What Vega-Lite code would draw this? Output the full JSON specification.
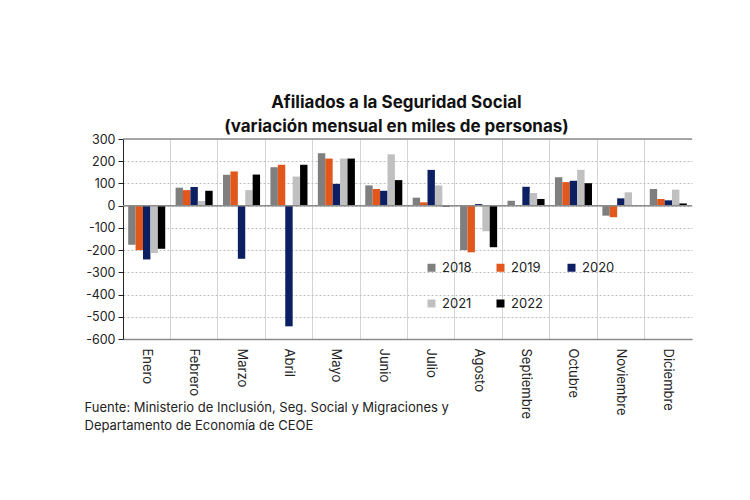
{
  "$schema": "https://vega.github.io/schema/vega-lite/v6.json",
  "width": 569,
  "height": 200,
  "autosize": {"type": "none"},
  "padding": {"left": 123, "top": 139, "right": 58, "bottom": 161},
  "background": "white",
  "config": {"font": "Inter", "view": {"stroke": null}},
  "title": {
    "text": ["Afiliados a la Seguridad Social", "(variación mensual en miles de personas)"],
    "fontSize": 17,
    "fontWeight": "bold",
    "color": "#111111",
    "lineHeight": 24,
    "anchor": "middle",
    "offset": -3,
    "dx": -11
  },
  "datasets": {
    "bars": [
      {"month": "Enero", "year": "2018", "value": -176},
      {"month": "Enero", "year": "2019", "value": -200},
      {"month": "Enero", "year": "2020", "value": -242},
      {"month": "Enero", "year": "2021", "value": -213},
      {"month": "Enero", "year": "2022", "value": -194},
      {"month": "Febrero", "year": "2018", "value": 81},
      {"month": "Febrero", "year": "2019", "value": 70},
      {"month": "Febrero", "year": "2020", "value": 84},
      {"month": "Febrero", "year": "2021", "value": 21},
      {"month": "Febrero", "year": "2022", "value": 67},
      {"month": "Marzo", "year": "2018", "value": 139},
      {"month": "Marzo", "year": "2019", "value": 154},
      {"month": "Marzo", "year": "2020", "value": -239},
      {"month": "Marzo", "year": "2021", "value": 70},
      {"month": "Marzo", "year": "2022", "value": 140},
      {"month": "Abril", "year": "2018", "value": 173},
      {"month": "Abril", "year": "2019", "value": 184},
      {"month": "Abril", "year": "2020", "value": -543},
      {"month": "Abril", "year": "2021", "value": 131},
      {"month": "Abril", "year": "2022", "value": 184},
      {"month": "Mayo", "year": "2018", "value": 236},
      {"month": "Mayo", "year": "2019", "value": 212},
      {"month": "Mayo", "year": "2020", "value": 98},
      {"month": "Mayo", "year": "2021", "value": 212},
      {"month": "Mayo", "year": "2022", "value": 212},
      {"month": "Junio", "year": "2018", "value": 91},
      {"month": "Junio", "year": "2019", "value": 75},
      {"month": "Junio", "year": "2020", "value": 67},
      {"month": "Junio", "year": "2021", "value": 231},
      {"month": "Junio", "year": "2022", "value": 115},
      {"month": "Julio", "year": "2018", "value": 36},
      {"month": "Julio", "year": "2019", "value": 15},
      {"month": "Julio", "year": "2020", "value": 161},
      {"month": "Julio", "year": "2021", "value": 91},
      {"month": "Julio", "year": "2022", "value": -4},
      {"month": "Agosto", "year": "2018", "value": -200},
      {"month": "Agosto", "year": "2019", "value": -210},
      {"month": "Agosto", "year": "2020", "value": 7},
      {"month": "Agosto", "year": "2021", "value": -115},
      {"month": "Agosto", "year": "2022", "value": -187},
      {"month": "Septiembre", "year": "2018", "value": 22},
      {"month": "Septiembre", "year": "2019", "value": 2},
      {"month": "Septiembre", "year": "2020", "value": 85},
      {"month": "Septiembre", "year": "2021", "value": 57},
      {"month": "Septiembre", "year": "2022", "value": 30},
      {"month": "Octubre", "year": "2018", "value": 128},
      {"month": "Octubre", "year": "2019", "value": 106},
      {"month": "Octubre", "year": "2020", "value": 112},
      {"month": "Octubre", "year": "2021", "value": 161},
      {"month": "Octubre", "year": "2022", "value": 101},
      {"month": "Noviembre", "year": "2018", "value": -45},
      {"month": "Noviembre", "year": "2019", "value": -52},
      {"month": "Noviembre", "year": "2020", "value": 33},
      {"month": "Noviembre", "year": "2021", "value": 60},
      {"month": "Diciembre", "year": "2018", "value": 75},
      {"month": "Diciembre", "year": "2019", "value": 30},
      {"month": "Diciembre", "year": "2020", "value": 24},
      {"month": "Diciembre", "year": "2021", "value": 72},
      {"month": "Diciembre", "year": "2022", "value": 10}
    ],
    "rules": [
      {"level": 0},
      {"level": 300}
    ]
  },
  "layer": [
    {
      "data": {"name": "bars"},
      "mark": {"type": "bar"},
      "encoding": {
        "x": {
          "field": "month",
          "type": "nominal",
          "sort": ["Enero", "Febrero", "Marzo", "Abril", "Mayo", "Junio", "Julio", "Agosto", "Septiembre", "Octubre", "Noviembre", "Diciembre"],
          "scale": {"paddingInner": 0, "paddingOuter": 0},
          "axis": {
            "title": ["Fuente: Ministerio de Inclusión, Seg. Social y Migraciones y", "Departamento de Economía de CEOE"],
            "titleX": -39,
            "titleY": 62,
            "titleAlign": "left",
            "titleAnchor": "start",
            "titleBaseline": "top",
            "titleFontSize": 13,
            "titleFontWeight": "normal",
            "titleColor": "#222222",
            "titleLineHeight": 18,
            "bandPosition": 0,
            "labelAngle": 90,
            "labelAlign": "left",
            "labelBaseline": "middle",
            "labelFontSize": 13,
            "labelPadding": 9,
            "labelColor": "#222222",
            "ticks": false,
            "domainColor": "#8c8c8c",
            "domainWidth": 1.5,
            "grid": true,
            "gridColor": "#d4d4d4"
          }
        },
        "xOffset": {
          "field": "year",
          "type": "nominal",
          "scale": {"paddingInner": 0, "paddingOuter": 0.7}
        },
        "y": {
          "field": "value",
          "type": "quantitative",
          "scale": {"domain": [-600, 300], "nice": false},
          "axis": {
            "title": null,
            "values": [-600, -500, -400, -300, -200, -100, 0, 100, 200, 300],
            "labelExpr": "replace(datum.label, '−', '-')",
            "labelOverlap": false,
            "labelFontSize": 12.5,
            "labelColor": "#222222",
            "labelPadding": 3,
            "domainColor": "#222222",
            "tickColor": "#222222",
            "tickSize": 5,
            "gridColor": "#bdbdbd",
            "gridDash": [2, 2]
          }
        },
        "color": {
          "field": "year",
          "type": "nominal",
          "scale": {
            "domain": ["2018", "2019", "2020", "2021", "2022"],
            "range": ["#7f7f7f", "#e2571c", "#0d1f63", "#c0c0c0", "#000000"]
          },
          "legend": {
            "title": null,
            "orient": "none",
            "legendX": 302,
            "legendY": 122,
            "direction": "horizontal",
            "columns": 3,
            "padding": 0,
            "symbolType": "square",
            "symbolSize": 64,
            "symbolStrokeWidth": 0,
            "labelFontSize": 13,
            "labelColor": "#222222",
            "columnPadding": 22,
            "rowPadding": 22
          }
        }
      }
    },
    {
      "data": {"name": "rules"},
      "mark": {"type": "rule", "color": "#8c8c8c", "strokeWidth": 1.5},
      "encoding": {
        "y": {
          "field": "level",
          "type": "quantitative",
          "axis": {
            "title": null,
            "values": [-600, -500, -400, -300, -200, -100, 0, 100, 200, 300],
            "labelExpr": "replace(datum.label, '−', '-')",
            "labelOverlap": false,
            "labelFontSize": 12.5,
            "labelColor": "#222222",
            "labelPadding": 3,
            "domainColor": "#222222",
            "tickColor": "#222222",
            "tickSize": 5,
            "gridColor": "#bdbdbd",
            "gridDash": [2, 2]
          }
        }
      }
    }
  ]
}
